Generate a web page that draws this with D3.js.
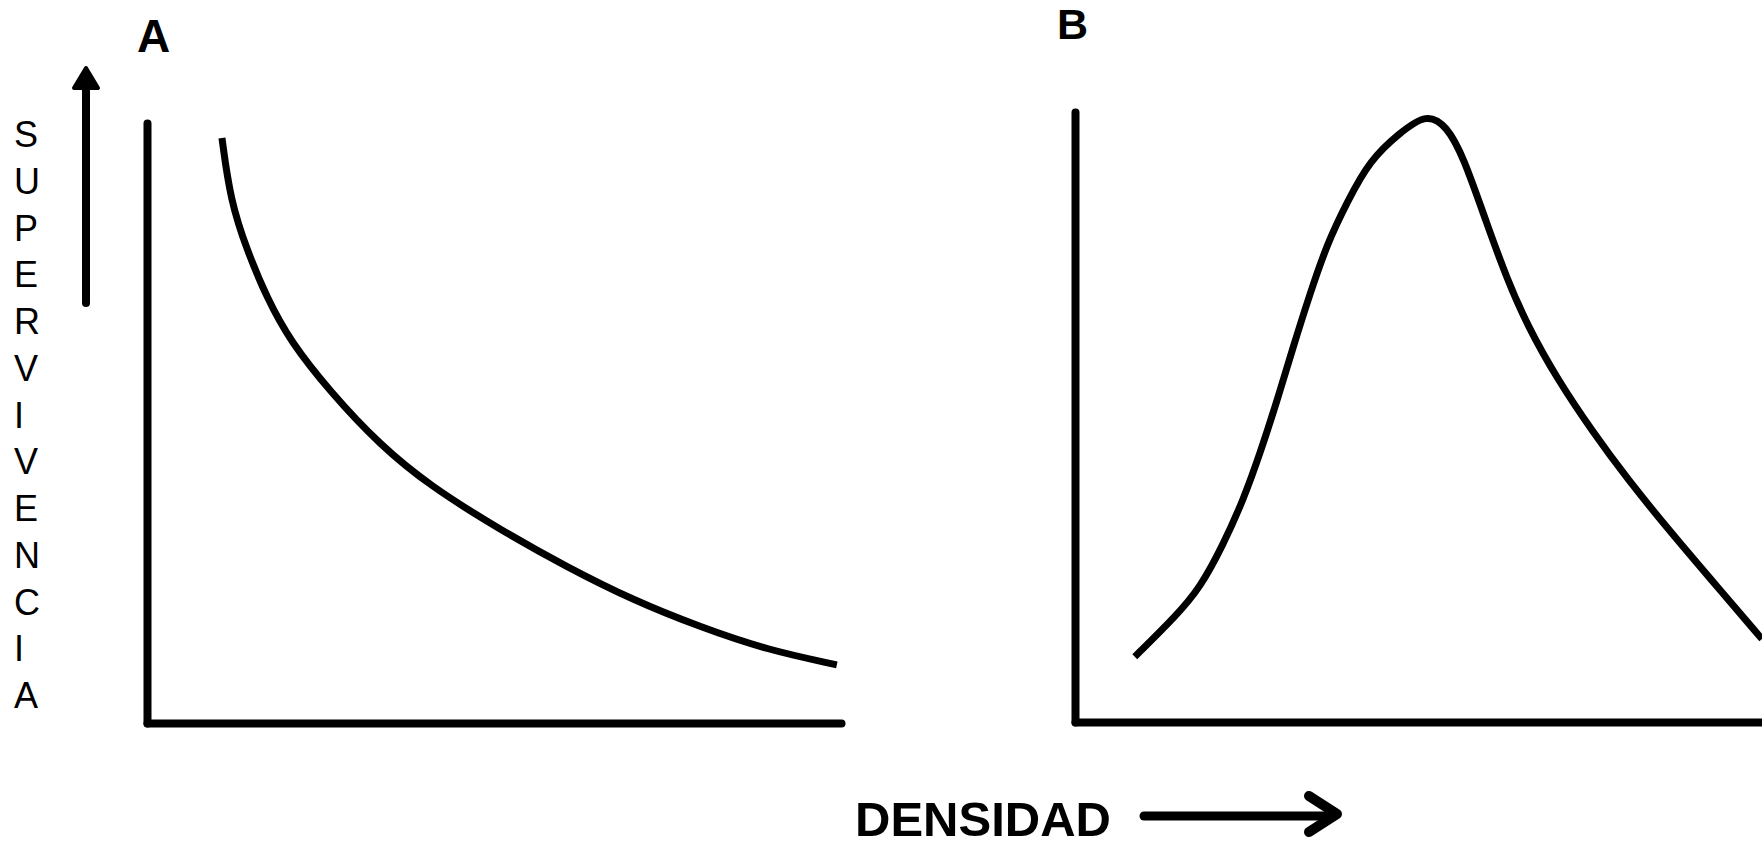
<!DOCTYPE html>
<html>
<head>
<meta charset="utf-8">
<script src="https://cdn.jsdelivr.net/npm/d3@7"></script>
<style>
  body { margin: 0; background: #fff; }
  svg { display: block; }
</style>
</head>
<body>
<div id="grafico"></div>
<script>
// Datos panel A (densidad 0-100, supervivencia 0-100)
const densidadA = [10.8, 12.0, 14.4, 17.3, 20.6, 26.4, 33.6, 40.8, 50.9, 60.5, 70.0, 79.7, 89.3, 99.4]
const supervivenciaA = [97.5, 87.2, 78.8, 70.8, 63.7, 55.2, 46.3, 39.5, 32.2, 26.0, 20.5, 16.0, 12.2, 9.7]

// Datos panel B
const densidadB = [8.7, 14.8, 18.2, 21.5, 24.5, 26.9, 29.4, 31.7, 34.2, 36.7, 39.6, 42.9, 47.3, 51.2, 54.1, 56.5, 60.0, 62.9, 65.8, 70.2, 75.4, 80.3, 86.2, 92.4, 100]
const supervivenciaB = [10.7, 17.5, 22.0, 28.9, 36.4, 43.9, 52.6, 61.3, 70.2, 78.4, 85.2, 92.1, 96.6, 99.8, 97.7, 92.8, 81.5, 72.6, 65.1, 56.2, 47.5, 40.0, 31.8, 23.6, 13.6]

// Textos
const paneles = ["A", "B"]
const tituloY = "SUPERVIVENCIA"
const tituloX = "DENSIDAD"

const width = 1762
const height = 846
const fuente = "'Liberation Sans', Arial, sans-serif"

const svg = d3.select("#grafico")
    .append("svg")
    .attr("width", width)
    .attr("height", height)

// Escalas
const xA = d3.scaleLinear().domain([0, 100]).range([147, 841])
const yA = d3.scaleLinear().domain([0, 100]).range([723, 123])
const xB = d3.scaleLinear().domain([0, 100]).range([1075, 1762])
const yB = d3.scaleLinear().domain([0, 100]).range([722, 112])

// Ejes sin marcas
function dibujarEjes(x, y){
  let ejeX = svg.append("g")
      .attr("transform", "translate(0," + y.range()[0] + ")")
      .call(d3.axisBottom(x).ticks(0).tickSizeOuter(0))
  let ejeY = svg.append("g")
      .attr("transform", "translate(" + x.range()[0] + ",0)")
      .call(d3.axisLeft(y).ticks(0).tickSizeOuter(0))
  ;[ejeX, ejeY].forEach(function(g){
    g.select(".domain")
      .attr("stroke", "#000")
      .attr("stroke-width", 8)
      .attr("stroke-linecap", "round")
  })
}
dibujarEjes(xA, yA)
dibujarEjes(xB, yB)

// Curvas
function dibujarCurva(xs, ys, x, y){
  let puntos = xs.map(function(d, i){ return [d, ys[i]] })
  let linea = d3.line()
      .x(function(d){ return x(d[0]) })
      .y(function(d){ return y(d[1]) })
      .curve(d3.curveBasis)
  svg.append("path")
      .datum(puntos)
      .attr("d", linea)
      .attr("fill", "none")
      .attr("stroke", "#000")
      .attr("stroke-width", 7)
}
dibujarCurva(densidadA, supervivenciaA, xA, yA)
dibujarCurva(densidadB, supervivenciaB, xB, yB)

// Letras de los paneles
svg.selectAll("text.panel")
    .data(paneles)
    .enter()
    .append("text")
    .attr("class", "panel")
    .attr("x", function(d, i){ return i == 0 ? 137 : 1057 })
    .attr("y", function(d, i){ return i == 0 ? 52 : 39 })
    .attr("font-family", fuente)
    .attr("font-weight", "bold")
    .attr("font-size", function(d, i){ return i == 0 ? "46px" : "43px" })
    .text(function(d){ return d })

// Titulo vertical, una letra por linea
svg.selectAll("text.letra")
    .data(tituloY.split(""))
    .enter()
    .append("text")
    .attr("class", "letra")
    .attr("x", 14)
    .attr("y", function(d, i){ return 147 + i * 46.75 })
    .attr("font-family", fuente)
    .attr("font-size", "36px")
    .text(function(d){ return d })

// Flecha hacia arriba
svg.append("line")
    .attr("x1", 86).attr("y1", 303)
    .attr("x2", 86).attr("y2", 82)
    .attr("stroke", "#000")
    .attr("stroke-width", 8)
    .attr("stroke-linecap", "round")
svg.append("path")
    .attr("d", "M74,88L86,68L98,88Z")
    .attr("fill", "#000")
    .attr("stroke", "#000")
    .attr("stroke-width", 4)
    .attr("stroke-linejoin", "round")

// Titulo horizontal y flecha
svg.append("text")
    .attr("x", 855)
    .attr("y", 836)
    .attr("font-family", fuente)
    .attr("font-weight", "bold")
    .attr("font-size", "49px")
    .text(tituloX)

svg.append("line")
    .attr("x1", 1144).attr("y1", 816)
    .attr("x2", 1334).attr("y2", 816)
    .attr("stroke", "#000")
    .attr("stroke-width", 9)
    .attr("stroke-linecap", "round")
svg.append("path")
    .attr("d", "M1309,796L1337,814L1309,832")
    .attr("fill", "none")
    .attr("stroke", "#000")
    .attr("stroke-width", 10)
    .attr("stroke-linecap", "round")
    .attr("stroke-linejoin", "round")
</script>
</body>
</html>
